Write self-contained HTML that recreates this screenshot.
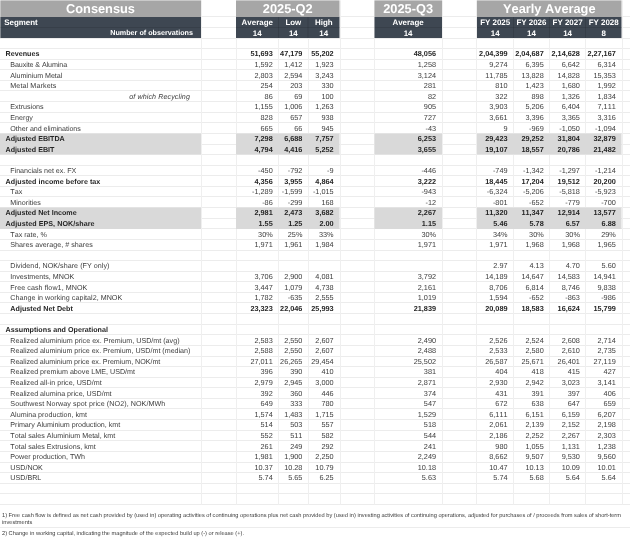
<!DOCTYPE html>
<html lang="en"><head><meta charset="utf-8"><title>Consensus</title>
<style>
html,body{margin:0;padding:0;background:#fff;}body{width:630px;height:537px;overflow:hidden;position:relative;}
#s{position:absolute;left:0;top:0;width:1260px;height:1074px;overflow:hidden;transform:scale(0.5);transform-origin:0 0;font-family:"Liberation Sans",Arial,sans-serif;color:#404040;font-size:14.3px;text-rendering:geometricPrecision;font-kerning:none;}
.h,.v,.bk,.r,.c,.l,.t{position:absolute;}
.h{left:0;width:1260px;height:2px;background:#ececec;}
.v{top:0;width:2px;background:#efefef;}
.g{background:#a6a6a6;}
.d{background:#3e4752;}
.sh{background:#d9d9d9;}
.r{left:0;width:1260px;height:21.2px;line-height:21.2px;white-space:nowrap;}
.c{top:0;height:100%;font-size:14.6px;text-align:right;box-sizing:border-box;padding-right:11.6px;}
.l{top:0;left:0;width:402px;height:100%;box-sizing:border-box;padding-left:11.2px;text-align:left;}
.i1{padding-left:20.6px;}
.b{font-weight:bold;color:#262626;}
.it{font-style:italic;text-align:right;padding-right:22px;}
.t{color:#fff;font-weight:bold;text-align:center;white-space:nowrap;}
.big{font-size:25.6px;top:0;height:33.6px;line-height:36.4px;}
.hd{font-size:15.9px;height:21px;line-height:21.2px;}
.fn{position:absolute;left:4px;width:1252px;font-size:11.33px;line-height:16px;color:#3c3c3c;white-space:nowrap;}

</style></head><body><div id="s">
<div class="h" style="top:76px"></div>
<div class="h" style="top:96px"></div>
<div class="h" style="top:118px"></div>
<div class="h" style="top:138px"></div>
<div class="h" style="top:160px"></div>
<div class="h" style="top:180px"></div>
<div class="h" style="top:202px"></div>
<div class="h" style="top:224px"></div>
<div class="h" style="top:244px"></div>
<div class="h" style="top:266px"></div>
<div class="h" style="top:288px"></div>
<div class="h" style="top:308px"></div>
<div class="h" style="top:330px"></div>
<div class="h" style="top:350px"></div>
<div class="h" style="top:372px"></div>
<div class="h" style="top:392px"></div>
<div class="h" style="top:414px"></div>
<div class="h" style="top:436px"></div>
<div class="h" style="top:456px"></div>
<div class="h" style="top:478px"></div>
<div class="h" style="top:500px"></div>
<div class="h" style="top:520px"></div>
<div class="h" style="top:542px"></div>
<div class="h" style="top:562px"></div>
<div class="h" style="top:584px"></div>
<div class="h" style="top:604px"></div>
<div class="h" style="top:626px"></div>
<div class="h" style="top:648px"></div>
<div class="h" style="top:668px"></div>
<div class="h" style="top:690px"></div>
<div class="h" style="top:712px"></div>
<div class="h" style="top:732px"></div>
<div class="h" style="top:754px"></div>
<div class="h" style="top:774px"></div>
<div class="h" style="top:796px"></div>
<div class="h" style="top:816px"></div>
<div class="h" style="top:838px"></div>
<div class="h" style="top:860px"></div>
<div class="h" style="top:880px"></div>
<div class="h" style="top:902px"></div>
<div class="h" style="top:924px"></div>
<div class="h" style="top:944px"></div>
<div class="h" style="top:966px"></div>
<div class="h" style="top:986px"></div>
<div class="h" style="top:1008px"></div>
<div class="h" style="top:32px"></div>
<div class="h" style="top:54px"></div>
<div class="h" style="top:1054px"></div>
<div class="v" style="left:402px;height:1008.8px"></div>
<div class="v" style="left:472px;height:1008.8px"></div>
<div class="v" style="left:556px;height:1008.8px"></div>
<div class="v" style="left:616px;height:1008.8px"></div>
<div class="v" style="left:680px;height:1008.8px"></div>
<div class="v" style="left:748px;height:1008.8px"></div>
<div class="v" style="left:884px;height:1008.8px"></div>
<div class="v" style="left:952px;height:1008.8px"></div>
<div class="v" style="left:1026px;height:1008.8px"></div>
<div class="v" style="left:1098px;height:1008.8px"></div>
<div class="v" style="left:1170px;height:1008.8px"></div>
<div class="v" style="left:1244px;height:1008.8px"></div>
<div class="bk g" style="left:0px;top:0;width:402px;height:33.6px"></div>
<div class="bk d" style="left:0px;top:33.6px;width:402px;height:42.2px"></div>
<div class="t big" style="left:0px;width:402px">Consensus</div>
<div class="bk g" style="left:472px;top:0;width:206.8px;height:33.6px"></div>
<div class="bk d" style="left:472px;top:33.6px;width:206.8px;height:42.2px"></div>
<div class="t big" style="left:472px;width:206.8px">2025-Q2</div>
<div class="bk g" style="left:748.8px;top:0;width:134.8px;height:33.6px"></div>
<div class="bk d" style="left:748.8px;top:33.6px;width:134.8px;height:42.2px"></div>
<div class="t big" style="left:748.8px;width:134.8px">2025-Q3</div>
<div class="bk g" style="left:954px;top:0;width:289.2px;height:33.6px"></div>
<div class="bk d" style="left:954px;top:33.6px;width:289.2px;height:42.2px"></div>
<div class="t big" style="left:954px;width:289.2px">Yearly Average</div>
<div class="bk" style="left:0;top:0;width:1260px;height:2px;background:rgba(255,255,255,0.4)"></div>
<div class="bk" style="left:0;top:0;width:2px;height:76px;background:rgba(255,255,255,0.35)"></div>
<div class="bk" style="left:0px;top:54px;width:402px;height:2px;background:rgba(0,0,0,0.10)"></div>
<div class="bk" style="left:472px;top:54px;width:206.8px;height:2px;background:rgba(0,0,0,0.10)"></div>
<div class="bk" style="left:748.8px;top:54px;width:134.8px;height:2px;background:rgba(0,0,0,0.10)"></div>
<div class="bk" style="left:954px;top:54px;width:289.2px;height:2px;background:rgba(0,0,0,0.10)"></div>
<div class="bk" style="left:556px;top:34px;width:2px;height:42px;background:rgba(0,0,0,0.12)"></div>
<div class="bk" style="left:615.4px;top:34px;width:2px;height:42px;background:rgba(0,0,0,0.12)"></div>
<div class="bk" style="left:1025.6px;top:34px;width:2px;height:42px;background:rgba(0,0,0,0.12)"></div>
<div class="bk" style="left:1098px;top:34px;width:2px;height:42px;background:rgba(0,0,0,0.12)"></div>
<div class="bk" style="left:1170.4px;top:34px;width:2px;height:42px;background:rgba(0,0,0,0.12)"></div>
<div class="t hd" style="left:8.4px;top:34.6px;text-align:left">Segment</div>
<div class="t hd" style="left:0;width:386px;top:56.4px;text-align:right;font-size:14.4px">Number of observations</div>
<div class="t hd" style="left:472px;width:85px;top:34.6px">Average</div>
<div class="t hd" style="left:472px;width:85px;top:56.4px">14</div>
<div class="t hd" style="left:557px;width:59.4px;top:34.6px">Low</div>
<div class="t hd" style="left:557px;width:59.4px;top:56.4px">14</div>
<div class="t hd" style="left:616.4px;width:62.4px;top:34.6px">High</div>
<div class="t hd" style="left:616.4px;width:62.4px;top:56.4px">14</div>
<div class="t hd" style="left:748.8px;width:134.8px;top:34.6px">Average</div>
<div class="t hd" style="left:748.8px;width:134.8px;top:56.4px">14</div>
<div class="t hd" style="left:954px;width:72.6px;top:34.6px">FY 2025</div>
<div class="t hd" style="left:954px;width:72.6px;top:56.4px">14</div>
<div class="t hd" style="left:1026.6px;width:72.4px;top:34.6px">FY 2026</div>
<div class="t hd" style="left:1026.6px;width:72.4px;top:56.4px">14</div>
<div class="t hd" style="left:1099px;width:72.4px;top:34.6px">FY 2027</div>
<div class="t hd" style="left:1099px;width:72.4px;top:56.4px">14</div>
<div class="t hd" style="left:1171.4px;width:71.8px;top:34.6px">FY 2028</div>
<div class="t hd" style="left:1171.4px;width:71.8px;top:56.4px">8</div>
<div class="bk sh" style="left:0px;top:266.8px;width:402px;height:21.4px"></div>
<div class="bk sh" style="left:472px;top:266.8px;width:206.8px;height:21.4px"></div>
<div class="bk sh" style="left:748.8px;top:266.8px;width:134.8px;height:21.4px"></div>
<div class="bk sh" style="left:954px;top:266.8px;width:289.2px;height:21.4px"></div>
<div class="bk sh" style="left:0px;top:288px;width:402px;height:21.4px"></div>
<div class="bk sh" style="left:472px;top:288px;width:206.8px;height:21.4px"></div>
<div class="bk sh" style="left:748.8px;top:288px;width:134.8px;height:21.4px"></div>
<div class="bk sh" style="left:954px;top:288px;width:289.2px;height:21.4px"></div>
<div class="bk sh" style="left:0px;top:415.2px;width:402px;height:21.4px"></div>
<div class="bk sh" style="left:472px;top:415.2px;width:206.8px;height:21.4px"></div>
<div class="bk sh" style="left:748.8px;top:415.2px;width:134.8px;height:21.4px"></div>
<div class="bk sh" style="left:954px;top:415.2px;width:289.2px;height:21.4px"></div>
<div class="bk sh" style="left:0px;top:436.4px;width:402px;height:21.4px"></div>
<div class="bk sh" style="left:472px;top:436.4px;width:206.8px;height:21.4px"></div>
<div class="bk sh" style="left:748.8px;top:436.4px;width:134.8px;height:21.4px"></div>
<div class="bk sh" style="left:954px;top:436.4px;width:289.2px;height:21.4px"></div>
<div class="r b" style="top:96.6px"><div class="l">Revenues</div><div class="c" style="left:472px;width:85px">51,693</div><div class="c" style="left:557px;width:59.4px">47,179</div><div class="c" style="left:616.4px;width:62.4px">55,202</div><div class="c" style="left:748.8px;width:134.8px">48,056</div><div class="c" style="left:954px;width:72.6px">2,04,399</div><div class="c" style="left:1026.6px;width:72.4px">2,04,687</div><div class="c" style="left:1099px;width:72.4px">2,14,628</div><div class="c" style="left:1171.4px;width:71.8px">2,27,167</div></div>
<div class="r" style="top:118.6px"><div class="l i1" style="letter-spacing:-0.2px">Bauxite &amp; Alumina</div><div class="c" style="left:472px;width:85px">1,592</div><div class="c" style="left:557px;width:59.4px">1,412</div><div class="c" style="left:616.4px;width:62.4px">1,923</div><div class="c" style="left:748.8px;width:134.8px">1,258</div><div class="c" style="left:954px;width:72.6px">9,274</div><div class="c" style="left:1026.6px;width:72.4px">6,395</div><div class="c" style="left:1099px;width:72.4px">6,642</div><div class="c" style="left:1171.4px;width:71.8px">6,314</div></div>
<div class="r" style="top:140.6px"><div class="l i1" style="letter-spacing:-0.13px">Aluminium Metal</div><div class="c" style="left:472px;width:85px">2,803</div><div class="c" style="left:557px;width:59.4px">2,594</div><div class="c" style="left:616.4px;width:62.4px">3,243</div><div class="c" style="left:748.8px;width:134.8px">3,124</div><div class="c" style="left:954px;width:72.6px">11,785</div><div class="c" style="left:1026.6px;width:72.4px">13,828</div><div class="c" style="left:1099px;width:72.4px">14,828</div><div class="c" style="left:1171.4px;width:71.8px">15,353</div></div>
<div class="r" style="top:160.6px"><div class="l i1" style="letter-spacing:0.2px">Metal Markets</div><div class="c" style="left:472px;width:85px">254</div><div class="c" style="left:557px;width:59.4px">203</div><div class="c" style="left:616.4px;width:62.4px">330</div><div class="c" style="left:748.8px;width:134.8px">281</div><div class="c" style="left:954px;width:72.6px">810</div><div class="c" style="left:1026.6px;width:72.4px">1,423</div><div class="c" style="left:1099px;width:72.4px">1,680</div><div class="c" style="left:1171.4px;width:71.8px">1,992</div></div>
<div class="r" style="top:182.6px"><div class="l it" style="letter-spacing:0.18px">of which Recycling</div><div class="c" style="left:472px;width:85px">86</div><div class="c" style="left:557px;width:59.4px">69</div><div class="c" style="left:616.4px;width:62.4px">100</div><div class="c" style="left:748.8px;width:134.8px">82</div><div class="c" style="left:954px;width:72.6px">322</div><div class="c" style="left:1026.6px;width:72.4px">898</div><div class="c" style="left:1099px;width:72.4px">1,326</div><div class="c" style="left:1171.4px;width:71.8px">1,834</div></div>
<div class="r" style="top:202.6px"><div class="l i1">Extrusions</div><div class="c" style="left:472px;width:85px">1,155</div><div class="c" style="left:557px;width:59.4px">1,006</div><div class="c" style="left:616.4px;width:62.4px">1,263</div><div class="c" style="left:748.8px;width:134.8px">905</div><div class="c" style="left:954px;width:72.6px">3,903</div><div class="c" style="left:1026.6px;width:72.4px">5,206</div><div class="c" style="left:1099px;width:72.4px">6,404</div><div class="c" style="left:1171.4px;width:71.8px">7,111</div></div>
<div class="r" style="top:224.6px"><div class="l i1">Energy</div><div class="c" style="left:472px;width:85px">828</div><div class="c" style="left:557px;width:59.4px">657</div><div class="c" style="left:616.4px;width:62.4px">938</div><div class="c" style="left:748.8px;width:134.8px">727</div><div class="c" style="left:954px;width:72.6px">3,661</div><div class="c" style="left:1026.6px;width:72.4px">3,396</div><div class="c" style="left:1099px;width:72.4px">3,365</div><div class="c" style="left:1171.4px;width:71.8px">3,316</div></div>
<div class="r" style="top:246.6px"><div class="l i1" style="letter-spacing:-0.09px">Other and eliminations</div><div class="c" style="left:472px;width:85px">665</div><div class="c" style="left:557px;width:59.4px">66</div><div class="c" style="left:616.4px;width:62.4px">945</div><div class="c" style="left:748.8px;width:134.8px">-43</div><div class="c" style="left:954px;width:72.6px">9</div><div class="c" style="left:1026.6px;width:72.4px">-969</div><div class="c" style="left:1099px;width:72.4px">-1,050</div><div class="c" style="left:1171.4px;width:71.8px">-1,094</div></div>
<div class="r b" style="top:266.6px"><div class="l">Adjusted EBITDA</div><div class="c" style="left:472px;width:85px">7,298</div><div class="c" style="left:557px;width:59.4px">6,688</div><div class="c" style="left:616.4px;width:62.4px">7,757</div><div class="c" style="left:748.8px;width:134.8px">6,253</div><div class="c" style="left:954px;width:72.6px">29,423</div><div class="c" style="left:1026.6px;width:72.4px">29,252</div><div class="c" style="left:1099px;width:72.4px">31,804</div><div class="c" style="left:1171.4px;width:71.8px">32,879</div></div>
<div class="r b" style="top:288.6px"><div class="l">Adjusted EBIT</div><div class="c" style="left:472px;width:85px">4,794</div><div class="c" style="left:557px;width:59.4px">4,416</div><div class="c" style="left:616.4px;width:62.4px">5,252</div><div class="c" style="left:748.8px;width:134.8px">3,655</div><div class="c" style="left:954px;width:72.6px">19,107</div><div class="c" style="left:1026.6px;width:72.4px">18,557</div><div class="c" style="left:1099px;width:72.4px">20,786</div><div class="c" style="left:1171.4px;width:71.8px">21,482</div></div>
<div class="r" style="top:330.6px"><div class="l i1" style="letter-spacing:-0.07px">Financials net ex. FX</div><div class="c" style="left:472px;width:85px">-450</div><div class="c" style="left:557px;width:59.4px">-792</div><div class="c" style="left:616.4px;width:62.4px">-9</div><div class="c" style="left:748.8px;width:134.8px">-446</div><div class="c" style="left:954px;width:72.6px">-749</div><div class="c" style="left:1026.6px;width:72.4px">-1,342</div><div class="c" style="left:1099px;width:72.4px">-1,297</div><div class="c" style="left:1171.4px;width:71.8px">-1,214</div></div>
<div class="r b" style="top:352.6px"><div class="l" style="letter-spacing:0.08px">Adjusted income before tax</div><div class="c" style="left:472px;width:85px">4,356</div><div class="c" style="left:557px;width:59.4px">3,955</div><div class="c" style="left:616.4px;width:62.4px">4,864</div><div class="c" style="left:748.8px;width:134.8px">3,222</div><div class="c" style="left:954px;width:72.6px">18,445</div><div class="c" style="left:1026.6px;width:72.4px">17,204</div><div class="c" style="left:1099px;width:72.4px">19,512</div><div class="c" style="left:1171.4px;width:71.8px">20,200</div></div>
<div class="r" style="top:372.6px"><div class="l i1">Tax</div><div class="c" style="left:472px;width:85px">-1,289</div><div class="c" style="left:557px;width:59.4px">-1,599</div><div class="c" style="left:616.4px;width:62.4px">-1,015</div><div class="c" style="left:748.8px;width:134.8px">-943</div><div class="c" style="left:954px;width:72.6px">-6,324</div><div class="c" style="left:1026.6px;width:72.4px">-5,206</div><div class="c" style="left:1099px;width:72.4px">-5,818</div><div class="c" style="left:1171.4px;width:71.8px">-5,923</div></div>
<div class="r" style="top:394.6px"><div class="l i1">Minorities</div><div class="c" style="left:472px;width:85px">-86</div><div class="c" style="left:557px;width:59.4px">-299</div><div class="c" style="left:616.4px;width:62.4px">168</div><div class="c" style="left:748.8px;width:134.8px">-12</div><div class="c" style="left:954px;width:72.6px">-801</div><div class="c" style="left:1026.6px;width:72.4px">-652</div><div class="c" style="left:1099px;width:72.4px">-779</div><div class="c" style="left:1171.4px;width:71.8px">-700</div></div>
<div class="r b" style="top:414.6px"><div class="l">Adjusted Net Income</div><div class="c" style="left:472px;width:85px">2,981</div><div class="c" style="left:557px;width:59.4px">2,473</div><div class="c" style="left:616.4px;width:62.4px">3,682</div><div class="c" style="left:748.8px;width:134.8px">2,267</div><div class="c" style="left:954px;width:72.6px">11,320</div><div class="c" style="left:1026.6px;width:72.4px">11,347</div><div class="c" style="left:1099px;width:72.4px">12,914</div><div class="c" style="left:1171.4px;width:71.8px">13,577</div></div>
<div class="r b" style="top:436.6px"><div class="l" style="letter-spacing:0.11px">Adjusted EPS, NOK/share</div><div class="c" style="left:472px;width:85px">1.55</div><div class="c" style="left:557px;width:59.4px">1.25</div><div class="c" style="left:616.4px;width:62.4px">2.00</div><div class="c" style="left:748.8px;width:134.8px">1.15</div><div class="c" style="left:954px;width:72.6px">5.46</div><div class="c" style="left:1026.6px;width:72.4px">5.78</div><div class="c" style="left:1099px;width:72.4px">6.57</div><div class="c" style="left:1171.4px;width:71.8px">6.88</div></div>
<div class="r" style="top:458.6px"><div class="l i1">Tax rate, %</div><div class="c" style="left:472px;width:85px">30%</div><div class="c" style="left:557px;width:59.4px">25%</div><div class="c" style="left:616.4px;width:62.4px">33%</div><div class="c" style="left:748.8px;width:134.8px">30%</div><div class="c" style="left:954px;width:72.6px">34%</div><div class="c" style="left:1026.6px;width:72.4px">30%</div><div class="c" style="left:1099px;width:72.4px">30%</div><div class="c" style="left:1171.4px;width:71.8px">29%</div></div>
<div class="r" style="top:478.6px"><div class="l i1" style="letter-spacing:0.06px">Shares average, # shares</div><div class="c" style="left:472px;width:85px">1,971</div><div class="c" style="left:557px;width:59.4px">1,961</div><div class="c" style="left:616.4px;width:62.4px">1,984</div><div class="c" style="left:748.8px;width:134.8px">1,971</div><div class="c" style="left:954px;width:72.6px">1,971</div><div class="c" style="left:1026.6px;width:72.4px">1,968</div><div class="c" style="left:1099px;width:72.4px">1,968</div><div class="c" style="left:1171.4px;width:71.8px">1,965</div></div>
<div class="r" style="top:520.6px"><div class="l i1" style="letter-spacing:0.07px">Dividend, NOK/share (FY only)</div><div class="c" style="left:954px;width:72.6px">2.97</div><div class="c" style="left:1026.6px;width:72.4px">4.13</div><div class="c" style="left:1099px;width:72.4px">4.70</div><div class="c" style="left:1171.4px;width:71.8px">5.60</div></div>
<div class="r" style="top:542.6px"><div class="l i1">Investments, MNOK</div><div class="c" style="left:472px;width:85px">3,706</div><div class="c" style="left:557px;width:59.4px">2,900</div><div class="c" style="left:616.4px;width:62.4px">4,081</div><div class="c" style="left:748.8px;width:134.8px">3,792</div><div class="c" style="left:954px;width:72.6px">14,189</div><div class="c" style="left:1026.6px;width:72.4px">14,647</div><div class="c" style="left:1099px;width:72.4px">14,583</div><div class="c" style="left:1171.4px;width:71.8px">14,941</div></div>
<div class="r" style="top:564.6px"><div class="l i1" style="letter-spacing:0.12px">Free cash flow1, MNOK</div><div class="c" style="left:472px;width:85px">3,447</div><div class="c" style="left:557px;width:59.4px">1,079</div><div class="c" style="left:616.4px;width:62.4px">4,738</div><div class="c" style="left:748.8px;width:134.8px">2,161</div><div class="c" style="left:954px;width:72.6px">8,706</div><div class="c" style="left:1026.6px;width:72.4px">6,814</div><div class="c" style="left:1099px;width:72.4px">8,746</div><div class="c" style="left:1171.4px;width:71.8px">9,838</div></div>
<div class="r" style="top:584.6px"><div class="l i1" style="letter-spacing:0.04px">Change in working capital2, MNOK</div><div class="c" style="left:472px;width:85px">1,782</div><div class="c" style="left:557px;width:59.4px">-635</div><div class="c" style="left:616.4px;width:62.4px">2,555</div><div class="c" style="left:748.8px;width:134.8px">1,019</div><div class="c" style="left:954px;width:72.6px">1,594</div><div class="c" style="left:1026.6px;width:72.4px">-652</div><div class="c" style="left:1099px;width:72.4px">-863</div><div class="c" style="left:1171.4px;width:71.8px">-986</div></div>
<div class="r b" style="top:606.6px"><div class="l i1" style="letter-spacing:0.08px">Adjusted Net Debt</div><div class="c" style="left:472px;width:85px">23,323</div><div class="c" style="left:557px;width:59.4px">22,046</div><div class="c" style="left:616.4px;width:62.4px">25,993</div><div class="c" style="left:748.8px;width:134.8px">21,839</div><div class="c" style="left:954px;width:72.6px">20,089</div><div class="c" style="left:1026.6px;width:72.4px">18,583</div><div class="c" style="left:1099px;width:72.4px">16,624</div><div class="c" style="left:1171.4px;width:71.8px">15,799</div></div>
<div class="r b" style="top:648.6px"><div class="l" style="letter-spacing:0.05px">Assumptions and Operational</div></div>
<div class="r" style="top:670.6px"><div class="l i1">Realized aluminium price ex. Premium, USD/mt (avg)</div><div class="c" style="left:472px;width:85px">2,583</div><div class="c" style="left:557px;width:59.4px">2,550</div><div class="c" style="left:616.4px;width:62.4px">2,607</div><div class="c" style="left:748.8px;width:134.8px">2,490</div><div class="c" style="left:954px;width:72.6px">2,526</div><div class="c" style="left:1026.6px;width:72.4px">2,524</div><div class="c" style="left:1099px;width:72.4px">2,608</div><div class="c" style="left:1171.4px;width:71.8px">2,714</div></div>
<div class="r" style="top:690.6px"><div class="l i1" style="letter-spacing:-0.04px">Realized aluminium price ex. Premium, USD/mt (median)</div><div class="c" style="left:472px;width:85px">2,588</div><div class="c" style="left:557px;width:59.4px">2,550</div><div class="c" style="left:616.4px;width:62.4px">2,607</div><div class="c" style="left:748.8px;width:134.8px">2,488</div><div class="c" style="left:954px;width:72.6px">2,533</div><div class="c" style="left:1026.6px;width:72.4px">2,580</div><div class="c" style="left:1099px;width:72.4px">2,610</div><div class="c" style="left:1171.4px;width:71.8px">2,735</div></div>
<div class="r" style="top:712.6px"><div class="l i1" style="letter-spacing:-0.06px">Realized aluminium price ex. Premium, NOK/mt</div><div class="c" style="left:472px;width:85px">27,011</div><div class="c" style="left:557px;width:59.4px">26,265</div><div class="c" style="left:616.4px;width:62.4px">29,454</div><div class="c" style="left:748.8px;width:134.8px">25,502</div><div class="c" style="left:954px;width:72.6px">26,587</div><div class="c" style="left:1026.6px;width:72.4px">25,671</div><div class="c" style="left:1099px;width:72.4px">26,401</div><div class="c" style="left:1171.4px;width:71.8px">27,119</div></div>
<div class="r" style="top:732.6px"><div class="l i1">Realized premium above LME, USD/mt</div><div class="c" style="left:472px;width:85px">396</div><div class="c" style="left:557px;width:59.4px">390</div><div class="c" style="left:616.4px;width:62.4px">410</div><div class="c" style="left:748.8px;width:134.8px">381</div><div class="c" style="left:954px;width:72.6px">404</div><div class="c" style="left:1026.6px;width:72.4px">418</div><div class="c" style="left:1099px;width:72.4px">415</div><div class="c" style="left:1171.4px;width:71.8px">427</div></div>
<div class="r" style="top:754.6px"><div class="l i1">Realized all-in price, USD/mt</div><div class="c" style="left:472px;width:85px">2,979</div><div class="c" style="left:557px;width:59.4px">2,945</div><div class="c" style="left:616.4px;width:62.4px">3,000</div><div class="c" style="left:748.8px;width:134.8px">2,871</div><div class="c" style="left:954px;width:72.6px">2,930</div><div class="c" style="left:1026.6px;width:72.4px">2,942</div><div class="c" style="left:1099px;width:72.4px">3,023</div><div class="c" style="left:1171.4px;width:71.8px">3,141</div></div>
<div class="r" style="top:776.6px"><div class="l i1">Realized alumina price, USD/mt</div><div class="c" style="left:472px;width:85px">392</div><div class="c" style="left:557px;width:59.4px">360</div><div class="c" style="left:616.4px;width:62.4px">446</div><div class="c" style="left:748.8px;width:134.8px">374</div><div class="c" style="left:954px;width:72.6px">431</div><div class="c" style="left:1026.6px;width:72.4px">391</div><div class="c" style="left:1099px;width:72.4px">397</div><div class="c" style="left:1171.4px;width:71.8px">406</div></div>
<div class="r" style="top:796.6px"><div class="l i1" style="letter-spacing:0.14px">Southwest Norway spot price (NO2), NOK/MWh</div><div class="c" style="left:472px;width:85px">649</div><div class="c" style="left:557px;width:59.4px">333</div><div class="c" style="left:616.4px;width:62.4px">780</div><div class="c" style="left:748.8px;width:134.8px">547</div><div class="c" style="left:954px;width:72.6px">672</div><div class="c" style="left:1026.6px;width:72.4px">638</div><div class="c" style="left:1099px;width:72.4px">647</div><div class="c" style="left:1171.4px;width:71.8px">659</div></div>
<div class="r" style="top:818.6px"><div class="l i1">Alumina production, kmt</div><div class="c" style="left:472px;width:85px">1,574</div><div class="c" style="left:557px;width:59.4px">1,483</div><div class="c" style="left:616.4px;width:62.4px">1,715</div><div class="c" style="left:748.8px;width:134.8px">1,529</div><div class="c" style="left:954px;width:72.6px">6,111</div><div class="c" style="left:1026.6px;width:72.4px">6,151</div><div class="c" style="left:1099px;width:72.4px">6,159</div><div class="c" style="left:1171.4px;width:71.8px">6,207</div></div>
<div class="r" style="top:838.6px"><div class="l i1" style="letter-spacing:-0.06px">Primary Aluminium production, kmt</div><div class="c" style="left:472px;width:85px">514</div><div class="c" style="left:557px;width:59.4px">503</div><div class="c" style="left:616.4px;width:62.4px">557</div><div class="c" style="left:748.8px;width:134.8px">518</div><div class="c" style="left:954px;width:72.6px">2,061</div><div class="c" style="left:1026.6px;width:72.4px">2,139</div><div class="c" style="left:1099px;width:72.4px">2,152</div><div class="c" style="left:1171.4px;width:71.8px">2,198</div></div>
<div class="r" style="top:860.6px"><div class="l i1">Total sales Aluminium Metal, kmt</div><div class="c" style="left:472px;width:85px">552</div><div class="c" style="left:557px;width:59.4px">511</div><div class="c" style="left:616.4px;width:62.4px">582</div><div class="c" style="left:748.8px;width:134.8px">544</div><div class="c" style="left:954px;width:72.6px">2,186</div><div class="c" style="left:1026.6px;width:72.4px">2,252</div><div class="c" style="left:1099px;width:72.4px">2,267</div><div class="c" style="left:1171.4px;width:71.8px">2,303</div></div>
<div class="r" style="top:882.6px"><div class="l i1">Total sales Extrusions, kmt</div><div class="c" style="left:472px;width:85px">261</div><div class="c" style="left:557px;width:59.4px">249</div><div class="c" style="left:616.4px;width:62.4px">292</div><div class="c" style="left:748.8px;width:134.8px">241</div><div class="c" style="left:954px;width:72.6px">980</div><div class="c" style="left:1026.6px;width:72.4px">1,055</div><div class="c" style="left:1099px;width:72.4px">1,131</div><div class="c" style="left:1171.4px;width:71.8px">1,238</div></div>
<div class="r" style="top:902.6px"><div class="l i1">Power production, TWh</div><div class="c" style="left:472px;width:85px">1,981</div><div class="c" style="left:557px;width:59.4px">1,900</div><div class="c" style="left:616.4px;width:62.4px">2,250</div><div class="c" style="left:748.8px;width:134.8px">2,249</div><div class="c" style="left:954px;width:72.6px">8,662</div><div class="c" style="left:1026.6px;width:72.4px">9,507</div><div class="c" style="left:1099px;width:72.4px">9,530</div><div class="c" style="left:1171.4px;width:71.8px">9,560</div></div>
<div class="r" style="top:924.6px"><div class="l i1">USD/NOK</div><div class="c" style="left:472px;width:85px">10.37</div><div class="c" style="left:557px;width:59.4px">10.28</div><div class="c" style="left:616.4px;width:62.4px">10.79</div><div class="c" style="left:748.8px;width:134.8px">10.18</div><div class="c" style="left:954px;width:72.6px">10.47</div><div class="c" style="left:1026.6px;width:72.4px">10.13</div><div class="c" style="left:1099px;width:72.4px">10.09</div><div class="c" style="left:1171.4px;width:71.8px">10.01</div></div>
<div class="r" style="top:944.6px"><div class="l i1">USD/BRL</div><div class="c" style="left:472px;width:85px">5.74</div><div class="c" style="left:557px;width:59.4px">5.65</div><div class="c" style="left:616.4px;width:62.4px">6.25</div><div class="c" style="left:748.8px;width:134.8px">5.63</div><div class="c" style="left:954px;width:72.6px">5.74</div><div class="c" style="left:1026.6px;width:72.4px">5.68</div><div class="c" style="left:1099px;width:72.4px">5.64</div><div class="c" style="left:1171.4px;width:71.8px">5.64</div></div>
<div class="fn" style="top:1022.6px">1) Free cash flow is defined as net cash provided by (used in) operating activities of continuing operations plus net cash provided by (used in) investing activities of continuing operations, adjusted for purchases of / proceeds from sales of short-term</div>
<div class="fn" style="top:1036.6px">investments</div>
<div class="fn" style="top:1058.6px">2) Change in working capital, indicating the magnitude of the expected build up (-) or release (+).</div>
</div></body></html>
